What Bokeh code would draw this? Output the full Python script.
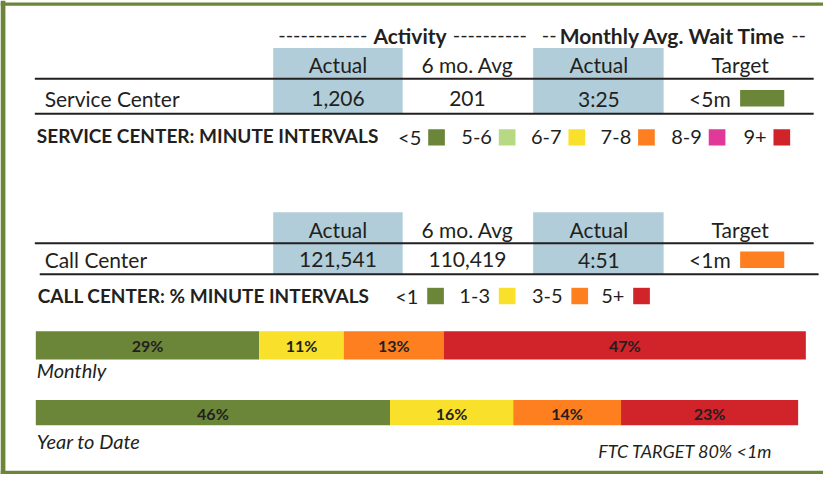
from bokeh.plotting import figure
from bokeh.models import Range1d
from bokeh.core.properties import value
from bokeh.embed import file_html
from bokeh.resources import INLINE
import numpy as np

# ---------------- data ----------------
col_headers = ["Actual", "6 mo. Avg", "Actual", "Target"]
service_row_label = "Service Center"
service_values = ["1,206", "201", "3:25", "<5m"]
call_row_label = "Call Center"
call_values = ["121,541", "110,419", "4:51", "<1m"]
service_target_color = "#6b8539"
call_target_color = "#fd7f20"

service_legend_labels = ["<5", "5-6", "6-7", "7-8", "8-9", "9+"]
service_legend_colors = ["#6b8539", "#b8d984", "#f9e02b", "#fd7f20", "#e0399a", "#d0232a"]
call_legend_labels = ["<1", "1-3", "3-5", "5+"]
call_legend_colors = ["#6b8539", "#f9e02b", "#fd7f20", "#d0232a"]

monthly_pct = [29, 11, 13, 47]
ytd_pct = [46, 16, 14, 23]

# ---------------- styles ----------------
FONT = value("Lato")
INK = "#231f20"
BLUE = "#b0cdd9"
GREEN = "#6b8539"

p = figure(width=823, height=474, x_range=Range1d(0, 839), y_range=Range1d(490, 0),
           output_backend="svg", toolbar_location=None, x_axis_type=None, y_axis_type=None,
           min_border=0)
p.grid.visible = False
p.outline_line_color = None
p.background_fill_color = "white"
p.border_fill_color = "white"
p.extra_x_ranges = {"pct": Range1d(-36 * 100 / 785, (839 - 36) * 100 / 785)}

# frame
p.quad(left=[0, 0, 0], right=[5, 839, 839], top=[0, 2, 486], bottom=[490, 5.5, 490],
       color=GREEN, line_color=None)

def txt(x, y, s, size="21px", style="normal", align="center", **kw):
    p.text(x=x, y=y, text=s, text_font=FONT, text_font_size=size, text_font_style=style,
           text_align=align, text_baseline="middle", text_color=INK, **kw)

# ---------------- table headers ----------------
txt([374], [36], ["------------"], size="20px", align="right")
txt([417.5], [36], ["Activity"], style="bold")
txt([461], [36], ["----------"], size="20px", align="left")
txt([567], [36], ["--"], size="20px", align="right")
txt([685.5], [36], ["Monthly Avg. Wait Time"], style="bold")
txt([806], [36], ["--"], size="20px", align="left")

col_x = [344, 476, 610, 754]

def table(y_top, y_head, y_line1, y_row, y_line2, row_label, vals, tcolor, line2_x):
    p.quad(left=[278, 543], right=[410, 676], top=[y_top, y_top], bottom=[y_line2, y_line2],
           color=BLUE, line_color=None)
    txt(col_x, [y_head] * 4, col_headers)
    p.segment(x0=[35], y0=[y_line1], x1=[829], y1=[y_line1], line_color=INK, line_width=2)
    p.segment(x0=[line2_x[0]], y0=[y_line2], x1=[line2_x[1]], y1=[y_line2], line_color=INK, line_width=2)
    txt([45], [y_row], [row_label], align="left")
    txt(col_x[:3], [y_row] * 3, vals[:3])
    txt([702], [y_row], [vals[3]], align="left")
    p.quad(left=[754], right=[799], top=[y_row - 8.5], bottom=[y_row + 8.5], color=tcolor, line_color=None)

table(49, 66, 81, 101, 117, service_row_label, service_values, service_target_color, (35, 829))
table(219, 237, 251, 268, 283, call_row_label, call_values, call_target_color, (40, 834))

# ---------------- legends ----------------
txt([37], [140], ["SERVICE CENTER: MINUTE INTERVALS"], size="19px", style="bold", align="left")
s_box = [436, 508, 579, 650, 722, 788]
p.quad(left=s_box, right=[b + 17 for b in s_box], top=[133] * 6, bottom=[150] * 6,
       color=service_legend_colors, line_color=None)
txt([b - 7 for b in s_box], [141] * 6, service_legend_labels, size="20px", align="right")

txt([38], [305], ["CALL CENTER: % MINUTE INTERVALS"], size="19px", style="bold", align="left")
c_box = [435, 508, 582, 645]
p.quad(left=c_box, right=[b + 17 for b in c_box], top=[297] * 4, bottom=[314] * 4,
       color=call_legend_colors, line_color=None)
txt([b - 9 for b in c_box], [305] * 4, call_legend_labels, size="20px", align="right")

# ---------------- stacked bars ----------------
def bar(vals, yc, h, label, label_y):
    r = np.cumsum(vals)
    l = r - np.array(vals)
    p.hbar(y=[yc] * len(vals), left=l, right=r, height=h, color=call_legend_colors,
           line_color=None, x_range_name="pct")
    txt(list((l + r) / 2), [yc + 0.5] * len(vals), [f"{v}%" for v in vals], size="16px",
        style="bold", x_range_name="pct")
    p.text(x=[37], y=[label_y], text=[label], text_font=FONT, text_font_size="20px",
           text_font_style="italic", text_align="left", text_baseline="middle", text_color=INK)

bar(monthly_pct, 356.5, 29, "Monthly", 382)
bar(ytd_pct, 426, 26, "Year to Date", 455)

p.text(x=[787], y=[466], text=["FTC TARGET 80% <1m"], text_font=FONT, text_font_size="18px",
       text_font_style="italic", text_align="right", text_baseline="middle", text_color=INK)

open("out.html", "w").write(file_html(p, INLINE))
